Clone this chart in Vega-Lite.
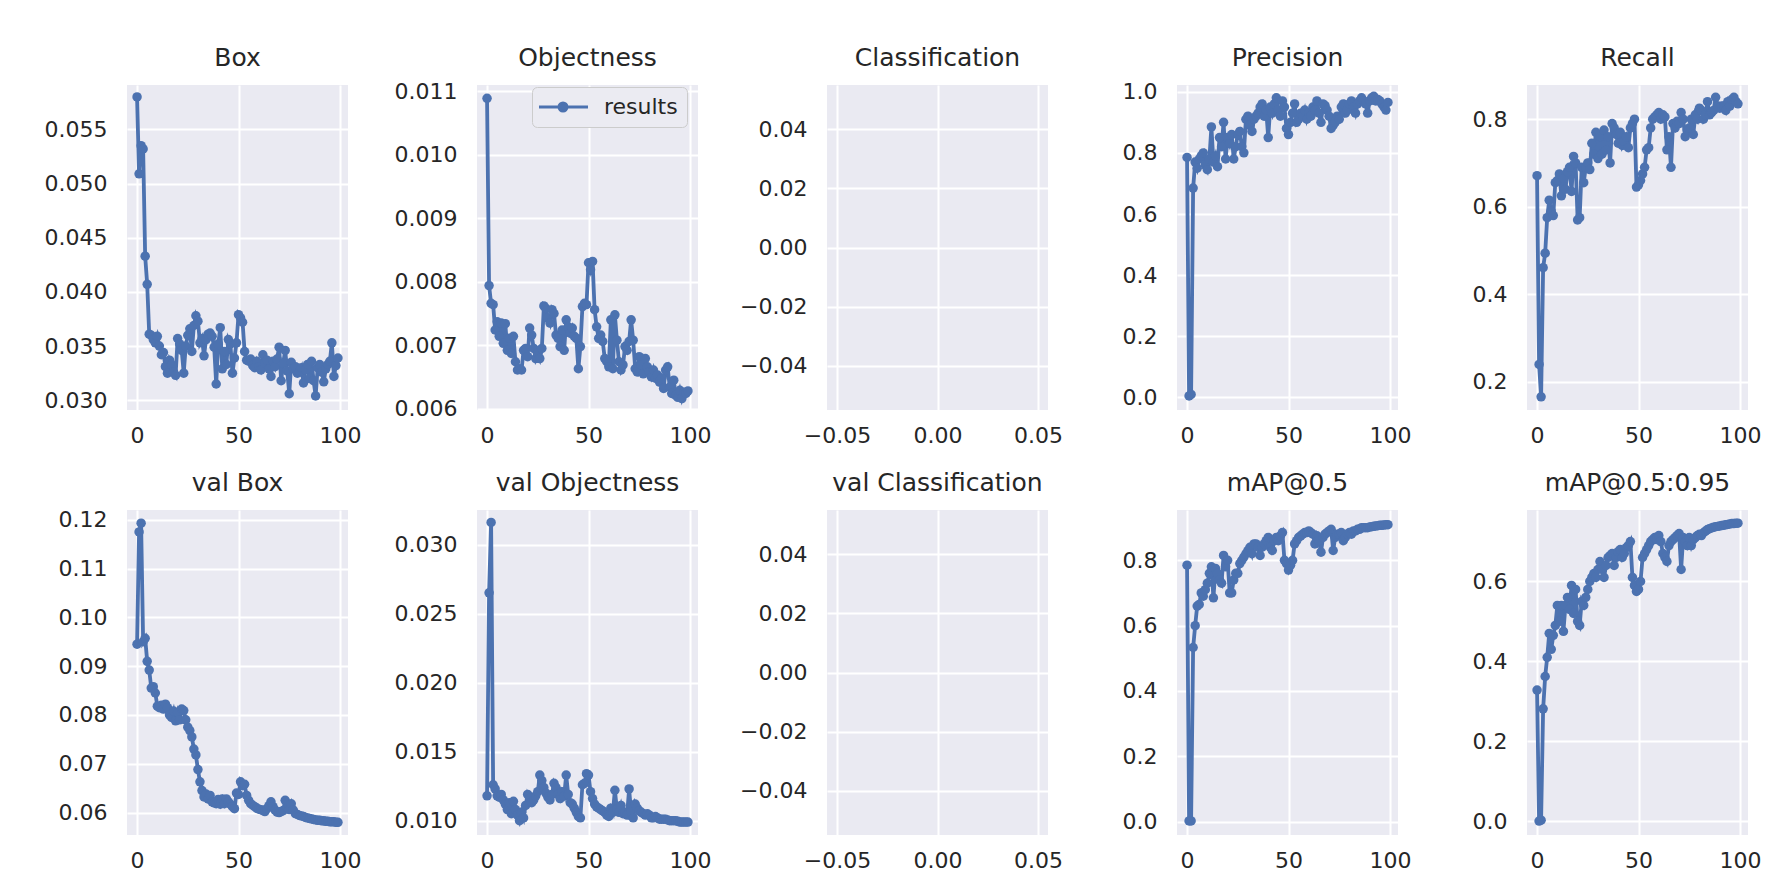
{
"$schema": "https://vega.github.io/schema/vega-lite/v6.json",
"background": "white",
"padding": {"left": 44, "top": 46, "right": 5, "bottom": 0},
"data": {"values": [
{"epoch":0,"box":0.0580,"obj":0.01089,"prec":0.785,"rec":0.671,"vbox":0.0945,"vobj":0.0118,"map50":0.785,"map":0.328},
{"epoch":1,"box":0.0509,"obj":0.00794,"prec":0.005,"rec":0.240,"vbox":0.1175,"vobj":0.0265,"map50":0.002,"map":0.000},
{"epoch":2,"box":0.0535,"obj":0.00766,"prec":0.010,"rec":0.166,"vbox":0.1193,"vobj":0.0316,"map50":0.002,"map":0.002},
{"epoch":3,"box":0.0532,"obj":0.00764,"prec":0.685,"rec":0.461,"vbox":0.0950,"vobj":0.0126,"map50":0.533,"map":0.281},
{"epoch":4,"box":0.0433,"obj":0.00724,"prec":0.770,"rec":0.494,"vbox":0.0957,"vobj":0.0123,"map50":0.600,"map":0.362},
{"epoch":5,"box":0.0407,"obj":0.00737,"prec":0.750,"rec":0.575,"vbox":0.0910,"vobj":0.0118,"map50":0.660,"map":0.410},
{"epoch":6,"box":0.0361,"obj":0.00714,"prec":0.780,"rec":0.615,"vbox":0.0892,"vobj":0.0117,"map50":0.665,"map":0.470},
{"epoch":7,"box":0.0360,"obj":0.00735,"prec":0.790,"rec":0.590,"vbox":0.0855,"vobj":0.0119,"map50":0.700,"map":0.430},
{"epoch":8,"box":0.0356,"obj":0.00703,"prec":0.800,"rec":0.580,"vbox":0.0858,"vobj":0.0115,"map50":0.690,"map":0.465},
{"epoch":9,"box":0.0353,"obj":0.00734,"prec":0.760,"rec":0.655,"vbox":0.0845,"vobj":0.0112,"map50":0.710,"map":0.490},
{"epoch":10,"box":0.0359,"obj":0.00692,"prec":0.745,"rec":0.660,"vbox":0.0818,"vobj":0.0108,"map50":0.730,"map":0.540},
{"epoch":11,"box":0.0350,"obj":0.00711,"prec":0.780,"rec":0.675,"vbox":0.0815,"vobj":0.0113,"map50":0.760,"map":0.500},
{"epoch":12,"box":0.0342,"obj":0.00687,"prec":0.885,"rec":0.625,"vbox":0.0820,"vobj":0.0105,"map50":0.780,"map":0.540},
{"epoch":13,"box":0.0344,"obj":0.00714,"prec":0.770,"rec":0.665,"vbox":0.0812,"vobj":0.0114,"map50":0.685,"map":0.475},
{"epoch":14,"box":0.0331,"obj":0.00674,"prec":0.790,"rec":0.640,"vbox":0.0822,"vobj":0.0108,"map50":0.775,"map":0.540},
{"epoch":15,"box":0.0325,"obj":0.00661,"prec":0.755,"rec":0.680,"vbox":0.0815,"vobj":0.0104,"map50":0.760,"map":0.560},
{"epoch":16,"box":0.0337,"obj":0.00663,"prec":0.850,"rec":0.690,"vbox":0.0800,"vobj":0.0100,"map50":0.740,"map":0.530},
{"epoch":17,"box":0.0333,"obj":0.00661,"prec":0.820,"rec":0.635,"vbox":0.0795,"vobj":0.0106,"map50":0.730,"map":0.590},
{"epoch":18,"box":0.0326,"obj":0.00692,"prec":0.900,"rec":0.715,"vbox":0.0808,"vobj":0.0102,"map50":0.815,"map":0.520},
{"epoch":19,"box":0.0323,"obj":0.00695,"prec":0.780,"rec":0.700,"vbox":0.0788,"vobj":0.0111,"map50":0.780,"map":0.580},
{"epoch":20,"box":0.0357,"obj":0.00682,"prec":0.850,"rec":0.570,"vbox":0.0805,"vobj":0.0119,"map50":0.800,"map":0.500},
{"epoch":21,"box":0.0352,"obj":0.00727,"prec":0.830,"rec":0.575,"vbox":0.0790,"vobj":0.0116,"map50":0.700,"map":0.490},
{"epoch":22,"box":0.0346,"obj":0.00716,"prec":0.860,"rec":0.690,"vbox":0.0812,"vobj":0.0113,"map50":0.700,"map":0.550},
{"epoch":23,"box":0.0325,"obj":0.00695,"prec":0.780,"rec":0.655,"vbox":0.0809,"vobj":0.0115,"map50":0.740,"map":0.540},
{"epoch":24,"box":0.0350,"obj":0.00679,"prec":0.820,"rec":0.690,"vbox":0.0790,"vobj":0.0118,"map50":0.760,"map":0.560},
{"epoch":25,"box":0.0360,"obj":0.00687,"prec":0.860,"rec":0.700,"vbox":0.0775,"vobj":0.0121,"map50":0.760,"map":0.580},
{"epoch":26,"box":0.0366,"obj":0.00679,"prec":0.870,"rec":0.685,"vbox":0.0768,"vobj":0.0133,"map50":0.790,"map":0.600},
{"epoch":27,"box":0.0345,"obj":0.00695,"prec":0.820,"rec":0.745,"vbox":0.0755,"vobj":0.0129,"map50":0.800,"map":0.610},
{"epoch":28,"box":0.0369,"obj":0.00762,"prec":0.800,"rec":0.720,"vbox":0.0730,"vobj":0.0124,"map50":0.810,"map":0.620},
{"epoch":29,"box":0.0378,"obj":0.00758,"prec":0.910,"rec":0.770,"vbox":0.0718,"vobj":0.0120,"map50":0.820,"map":0.610},
{"epoch":30,"box":0.0373,"obj":0.00743,"prec":0.920,"rec":0.710,"vbox":0.0688,"vobj":0.0117,"map50":0.830,"map":0.630},
{"epoch":31,"box":0.0353,"obj":0.00735,"prec":0.890,"rec":0.760,"vbox":0.0663,"vobj":0.0115,"map50":0.840,"map":0.650},
{"epoch":32,"box":0.0357,"obj":0.00756,"prec":0.870,"rec":0.720,"vbox":0.0645,"vobj":0.0119,"map50":0.820,"map":0.630},
{"epoch":33,"box":0.0341,"obj":0.00750,"prec":0.910,"rec":0.775,"vbox":0.0632,"vobj":0.0127,"map50":0.850,"map":0.610},
{"epoch":34,"box":0.0356,"obj":0.00716,"prec":0.920,"rec":0.730,"vbox":0.0638,"vobj":0.0124,"map50":0.850,"map":0.640},
{"epoch":35,"box":0.0361,"obj":0.00711,"prec":0.930,"rec":0.760,"vbox":0.0628,"vobj":0.0119,"map50":0.840,"map":0.660},
{"epoch":36,"box":0.0362,"obj":0.00698,"prec":0.950,"rec":0.700,"vbox":0.0635,"vobj":0.0116,"map50":0.815,"map":0.665},
{"epoch":37,"box":0.0359,"obj":0.00724,"prec":0.960,"rec":0.790,"vbox":0.0622,"vobj":0.0121,"map50":0.840,"map":0.670},
{"epoch":38,"box":0.0349,"obj":0.00692,"prec":0.920,"rec":0.780,"vbox":0.0620,"vobj":0.0118,"map50":0.850,"map":0.640},
{"epoch":39,"box":0.0315,"obj":0.00740,"prec":0.940,"rec":0.765,"vbox":0.0618,"vobj":0.0133,"map50":0.860,"map":0.660},
{"epoch":40,"box":0.0352,"obj":0.00729,"prec":0.850,"rec":0.745,"vbox":0.0627,"vobj":0.0119,"map50":0.870,"map":0.675},
{"epoch":41,"box":0.0367,"obj":0.00719,"prec":0.950,"rec":0.770,"vbox":0.0617,"vobj":0.0113,"map50":0.840,"map":0.680},
{"epoch":42,"box":0.0329,"obj":0.00727,"prec":0.930,"rec":0.740,"vbox":0.0628,"vobj":0.0112,"map50":0.830,"map":0.660},
{"epoch":43,"box":0.0345,"obj":0.00714,"prec":0.960,"rec":0.750,"vbox":0.0618,"vobj":0.0109,"map50":0.860,"map":0.670},
{"epoch":44,"box":0.0333,"obj":0.00711,"prec":0.980,"rec":0.760,"vbox":0.0628,"vobj":0.0106,"map50":0.870,"map":0.685},
{"epoch":45,"box":0.0356,"obj":0.00663,"prec":0.940,"rec":0.735,"vbox":0.0622,"vobj":0.0103,"map50":0.860,"map":0.690},
{"epoch":46,"box":0.0352,"obj":0.00698,"prec":0.920,"rec":0.780,"vbox":0.0617,"vobj":0.0102,"map50":0.875,"map":0.700},
{"epoch":47,"box":0.0325,"obj":0.00761,"prec":0.970,"rec":0.790,"vbox":0.0612,"vobj":0.0126,"map50":0.885,"map":0.610},
{"epoch":48,"box":0.0339,"obj":0.00766,"prec":0.950,"rec":0.800,"vbox":0.0608,"vobj":0.0127,"map50":0.800,"map":0.590},
{"epoch":49,"box":0.0353,"obj":0.00764,"prec":0.880,"rec":0.645,"vbox":0.0640,"vobj":0.0134,"map50":0.790,"map":0.575},
{"epoch":50,"box":0.0379,"obj":0.00830,"prec":0.860,"rec":0.650,"vbox":0.0637,"vobj":0.0133,"map50":0.770,"map":0.580},
{"epoch":51,"box":0.0376,"obj":0.00819,"prec":0.900,"rec":0.660,"vbox":0.0663,"vobj":0.0121,"map50":0.785,"map":0.600},
{"epoch":52,"box":0.0372,"obj":0.00832,"prec":0.930,"rec":0.675,"vbox":0.0655,"vobj":0.0116,"map50":0.800,"map":0.660},
{"epoch":53,"box":0.0345,"obj":0.00756,"prec":0.960,"rec":0.690,"vbox":0.0658,"vobj":0.0112,"map50":0.850,"map":0.670},
{"epoch":54,"box":0.0337,"obj":0.00729,"prec":0.900,"rec":0.730,"vbox":0.0635,"vobj":0.0110,"map50":0.860,"map":0.680},
{"epoch":55,"box":0.0336,"obj":0.00711,"prec":0.910,"rec":0.735,"vbox":0.0625,"vobj":0.0109,"map50":0.870,"map":0.690},
{"epoch":56,"box":0.0338,"obj":0.00716,"prec":0.930,"rec":0.780,"vbox":0.0618,"vobj":0.0108,"map50":0.875,"map":0.700},
{"epoch":57,"box":0.0332,"obj":0.00706,"prec":0.920,"rec":0.800,"vbox":0.0615,"vobj":0.0107,"map50":0.880,"map":0.705},
{"epoch":58,"box":0.0330,"obj":0.00679,"prec":0.940,"rec":0.805,"vbox":0.0612,"vobj":0.0106,"map50":0.885,"map":0.710},
{"epoch":59,"box":0.0336,"obj":0.00674,"prec":0.910,"rec":0.810,"vbox":0.0609,"vobj":0.0104,"map50":0.885,"map":0.705},
{"epoch":60,"box":0.0331,"obj":0.00666,"prec":0.930,"rec":0.815,"vbox":0.0607,"vobj":0.0103,"map50":0.890,"map":0.715},
{"epoch":61,"box":0.0328,"obj":0.00740,"prec":0.920,"rec":0.800,"vbox":0.0606,"vobj":0.0109,"map50":0.885,"map":0.700},
{"epoch":62,"box":0.0342,"obj":0.00663,"prec":0.950,"rec":0.810,"vbox":0.0604,"vobj":0.0106,"map50":0.880,"map":0.670},
{"epoch":63,"box":0.0334,"obj":0.00748,"prec":0.940,"rec":0.805,"vbox":0.0602,"vobj":0.0122,"map50":0.850,"map":0.660},
{"epoch":64,"box":0.0337,"obj":0.00708,"prec":0.970,"rec":0.730,"vbox":0.0608,"vobj":0.0108,"map50":0.875,"map":0.650},
{"epoch":65,"box":0.0329,"obj":0.00674,"prec":0.930,"rec":0.760,"vbox":0.0614,"vobj":0.0106,"map50":0.860,"map":0.690},
{"epoch":66,"box":0.0322,"obj":0.00661,"prec":0.900,"rec":0.690,"vbox":0.0622,"vobj":0.0111,"map50":0.825,"map":0.700},
{"epoch":67,"box":0.0336,"obj":0.00669,"prec":0.960,"rec":0.790,"vbox":0.0612,"vobj":0.0105,"map50":0.870,"map":0.705},
{"epoch":68,"box":0.0331,"obj":0.00698,"prec":0.955,"rec":0.780,"vbox":0.0605,"vobj":0.0106,"map50":0.880,"map":0.710},
{"epoch":69,"box":0.0338,"obj":0.00692,"prec":0.940,"rec":0.795,"vbox":0.0601,"vobj":0.0104,"map50":0.885,"map":0.715},
{"epoch":70,"box":0.0349,"obj":0.00706,"prec":0.920,"rec":0.790,"vbox":0.0600,"vobj":0.0123,"map50":0.890,"map":0.720},
{"epoch":71,"box":0.0318,"obj":0.00740,"prec":0.880,"rec":0.815,"vbox":0.0602,"vobj":0.0106,"map50":0.895,"map":0.630},
{"epoch":72,"box":0.0334,"obj":0.00708,"prec":0.890,"rec":0.800,"vbox":0.0604,"vobj":0.0102,"map50":0.830,"map":0.710},
{"epoch":73,"box":0.0346,"obj":0.00663,"prec":0.900,"rec":0.760,"vbox":0.0625,"vobj":0.0112,"map50":0.870,"map":0.700},
{"epoch":74,"box":0.0327,"obj":0.00658,"prec":0.920,"rec":0.775,"vbox":0.0610,"vobj":0.0109,"map50":0.880,"map":0.690},
{"epoch":75,"box":0.0306,"obj":0.00682,"prec":0.910,"rec":0.780,"vbox":0.0606,"vobj":0.0107,"map50":0.880,"map":0.710},
{"epoch":76,"box":0.0335,"obj":0.00669,"prec":0.950,"rec":0.800,"vbox":0.0618,"vobj":0.0106,"map50":0.885,"map":0.690},
{"epoch":77,"box":0.0329,"obj":0.00655,"prec":0.960,"rec":0.765,"vbox":0.0605,"vobj":0.0105,"map50":0.860,"map":0.705},
{"epoch":78,"box":0.0331,"obj":0.00679,"prec":0.930,"rec":0.810,"vbox":0.0598,"vobj":0.0104,"map50":0.870,"map":0.710},
{"epoch":79,"box":0.0325,"obj":0.00666,"prec":0.940,"rec":0.800,"vbox":0.0596,"vobj":0.0105,"map50":0.880,"map":0.715},
{"epoch":80,"box":0.0326,"obj":0.00658,"prec":0.960,"rec":0.825,"vbox":0.0594,"vobj":0.0104,"map50":0.885,"map":0.718},
{"epoch":81,"box":0.0330,"obj":0.00650,"prec":0.970,"rec":0.820,"vbox":0.0593,"vobj":0.0102,"map50":0.880,"map":0.715},
{"epoch":82,"box":0.0316,"obj":0.00661,"prec":0.950,"rec":0.800,"vbox":0.0592,"vobj":0.0102,"map50":0.890,"map":0.722},
{"epoch":83,"box":0.0328,"obj":0.00648,"prec":0.930,"rec":0.810,"vbox":0.0590,"vobj":0.0103,"map50":0.890,"map":0.726},
{"epoch":84,"box":0.0333,"obj":0.00653,"prec":0.960,"rec":0.840,"vbox":0.0589,"vobj":0.0102,"map50":0.895,"map":0.730},
{"epoch":85,"box":0.0320,"obj":0.00642,"prec":0.970,"rec":0.810,"vbox":0.0588,"vobj":0.0101,"map50":0.895,"map":0.732},
{"epoch":86,"box":0.0336,"obj":0.00648,"prec":0.980,"rec":0.815,"vbox":0.0587,"vobj":0.0101,"map50":0.900,"map":0.734},
{"epoch":87,"box":0.0318,"obj":0.00632,"prec":0.970,"rec":0.820,"vbox":0.0586,"vobj":0.0101,"map50":0.900,"map":0.736},
{"epoch":88,"box":0.0304,"obj":0.00661,"prec":0.960,"rec":0.850,"vbox":0.0585,"vobj":0.0101,"map50":0.900,"map":0.737},
{"epoch":89,"box":0.0330,"obj":0.00666,"prec":0.930,"rec":0.830,"vbox":0.0584,"vobj":0.01005,"map50":0.900,"map":0.738},
{"epoch":90,"box":0.0333,"obj":0.00634,"prec":0.970,"rec":0.825,"vbox":0.0584,"vobj":0.0100,"map50":0.902,"map":0.739},
{"epoch":91,"box":0.0326,"obj":0.00624,"prec":0.980,"rec":0.830,"vbox":0.0583,"vobj":0.0100,"map50":0.903,"map":0.740},
{"epoch":92,"box":0.0317,"obj":0.00645,"prec":0.985,"rec":0.830,"vbox":0.0583,"vobj":0.0100,"map50":0.904,"map":0.741},
{"epoch":93,"box":0.0329,"obj":0.00621,"prec":0.970,"rec":0.820,"vbox":0.0582,"vobj":0.0100,"map50":0.905,"map":0.742},
{"epoch":94,"box":0.0333,"obj":0.00618,"prec":0.975,"rec":0.840,"vbox":0.0582,"vobj":0.00995,"map50":0.906,"map":0.743},
{"epoch":95,"box":0.0336,"obj":0.00629,"prec":0.970,"rec":0.830,"vbox":0.0581,"vobj":0.0099,"map50":0.907,"map":0.744},
{"epoch":96,"box":0.0353,"obj":0.00616,"prec":0.960,"rec":0.845,"vbox":0.0581,"vobj":0.0099,"map50":0.907,"map":0.745},
{"epoch":97,"box":0.0322,"obj":0.00626,"prec":0.950,"rec":0.850,"vbox":0.0581,"vobj":0.0099,"map50":0.908,"map":0.745},
{"epoch":98,"box":0.0332,"obj":0.00624,"prec":0.940,"rec":0.840,"vbox":0.0580,"vobj":0.0099,"map50":0.909,"map":0.746},
{"epoch":99,"box":0.0339,"obj":0.00628,"prec":0.965,"rec":0.835,"vbox":0.0580,"vobj":0.0099,"map50":0.909,"map":0.746}
]},
"columns": 5,
"spacing": {"row": 100, "column": 129},
"bounds": "flush",
"resolve": {"scale": {"color": "independent"}, "legend": {"color": "independent"}},
"concat": [
{"title": "Box", "width": 221, "height": 325,
 "mark": {"type": "line", "color": "#4C72B0", "strokeWidth": 3.8, "point": {"filled": true, "size": 90, "color": "#4C72B0"}},
 "encoding": {
  "x": {"field": "epoch", "type": "quantitative", "scale": {"domain": [-4.95, 103.95], "nice": false, "zero": false}, "axis": {"values": [0, 50, 100], "format": "d", "title": null}},
  "y": {"field": "box", "type": "quantitative", "scale": {"domain": [0.0291, 0.0591], "nice": false, "zero": false}, "axis": {"values": [0.03, 0.035, 0.04, 0.045, 0.05, 0.055], "format": ".3f", "title": null}}}},
{"title": {"text": "Objectness", "dy": 5}, "width": 221, "height": 325,
 "mark": {"type": "line", "color": "#4C72B0", "strokeWidth": 3.8, "point": {"filled": true, "size": 90, "color": "#4C72B0"}},
 "encoding": {
  "x": {"field": "epoch", "type": "quantitative", "scale": {"domain": [-4.95, 103.95], "nice": false, "zero": false}, "axis": {"values": [0, 50, 100], "format": "d", "title": null}},
  "y": {"field": "obj", "type": "quantitative", "scale": {"domain": [0.00598, 0.0111], "nice": false, "zero": false}, "axis": {"values": [0.006, 0.007, 0.008, 0.009, 0.01, 0.011], "format": ".3f", "title": null}},
  "color": {"datum": "results", "type": "nominal", "scale": {"range": ["#4C72B0"]},
   "legend": {"title": null, "orient": "none", "legendX": 55, "legendY": 2, "symbolType": "M-1.625,0L4.5,0M0.875,0A0.5,0.5,0,1,0,1.875,0A0.5,0.5,0,1,0,0.875,0Z", "symbolSize": 256, "symbolStrokeWidth": 3, "symbolFillColor": "#4C72B0", "symbolStrokeColor": "#4C72B0", "labelFontSize": 22, "labelColor": "#262626", "labelFont": "DejaVu Sans", "fillColor": "#EBEBF2", "strokeColor": "#CCCCCC", "cornerRadius": 5, "padding": 9, "labelOffset": 41}}}},
{"title": "Classification", "width": 221, "height": 325,
 "data": {"values": []},
 "mark": {"type": "line", "color": "#4C72B0"},
 "encoding": {
  "x": {"field": "x", "type": "quantitative", "scale": {"domain": [-0.055, 0.055], "nice": false, "zero": false}, "axis": {"values": [-0.05, 0, 0.05], "format": ".2f", "title": null}},
  "y": {"field": "y", "type": "quantitative", "scale": {"domain": [-0.055, 0.055], "nice": false, "zero": false}, "axis": {"values": [-0.04, -0.02, 0, 0.02, 0.04], "format": ".2f", "title": null}}}},
{"title": {"text": "Precision", "dy": 4.5}, "width": 221, "height": 325,
 "mark": {"type": "line", "color": "#4C72B0", "strokeWidth": 3.8, "point": {"filled": true, "size": 90, "color": "#4C72B0"}},
 "encoding": {
  "x": {"field": "epoch", "type": "quantitative", "scale": {"domain": [-4.95, 103.95], "nice": false, "zero": false}, "axis": {"values": [0, 50, 100], "format": "d", "title": null}},
  "y": {"field": "prec", "type": "quantitative", "scale": {"domain": [-0.041, 1.022], "nice": false, "zero": false}, "axis": {"values": [0, 0.2, 0.4, 0.6, 0.8, 1.0], "format": ".1f", "title": null}}}},
{"title": "Recall", "width": 221, "height": 325,
 "mark": {"type": "line", "color": "#4C72B0", "strokeWidth": 3.8, "point": {"filled": true, "size": 90, "color": "#4C72B0"}},
 "encoding": {
  "x": {"field": "epoch", "type": "quantitative", "scale": {"domain": [-4.95, 103.95], "nice": false, "zero": false}, "axis": {"values": [0, 50, 100], "format": "d", "title": null}},
  "y": {"field": "rec", "type": "quantitative", "scale": {"domain": [0.136, 0.878], "nice": false, "zero": false}, "axis": {"values": [0.2, 0.4, 0.6, 0.8], "format": ".1f", "title": null}}}},
{"title": {"text": "val Box", "dy": 1.5}, "width": 221, "height": 325,
 "mark": {"type": "line", "color": "#4C72B0", "strokeWidth": 3.8, "point": {"filled": true, "size": 90, "color": "#4C72B0"}},
 "encoding": {
  "x": {"field": "epoch", "type": "quantitative", "scale": {"domain": [-4.95, 103.95], "nice": false, "zero": false}, "axis": {"values": [0, 50, 100], "format": "d", "title": null}},
  "y": {"field": "vbox", "type": "quantitative", "scale": {"domain": [0.0554, 0.122], "nice": false, "zero": false}, "axis": {"values": [0.06, 0.07, 0.08, 0.09, 0.1, 0.11, 0.12], "format": ".2f", "title": null}}}},
{"title": "val Objectness", "width": 221, "height": 325,
 "mark": {"type": "line", "color": "#4C72B0", "strokeWidth": 3.8, "point": {"filled": true, "size": 90, "color": "#4C72B0"}},
 "encoding": {
  "x": {"field": "epoch", "type": "quantitative", "scale": {"domain": [-4.95, 103.95], "nice": false, "zero": false}, "axis": {"values": [0, 50, 100], "format": "d", "title": null}},
  "y": {"field": "vobj", "type": "quantitative", "scale": {"domain": [0.00896, 0.0325], "nice": false, "zero": false}, "axis": {"values": [0.01, 0.015, 0.02, 0.025, 0.03], "format": ".3f", "title": null}}}},
{"title": "val Classification", "width": 221, "height": 325,
 "data": {"values": []},
 "mark": {"type": "line", "color": "#4C72B0"},
 "encoding": {
  "x": {"field": "x", "type": "quantitative", "scale": {"domain": [-0.055, 0.055], "nice": false, "zero": false}, "axis": {"values": [-0.05, 0, 0.05], "format": ".2f", "title": null}},
  "y": {"field": "y", "type": "quantitative", "scale": {"domain": [-0.055, 0.055], "nice": false, "zero": false}, "axis": {"values": [-0.04, -0.02, 0, 0.02, 0.04], "format": ".2f", "title": null}}}},
{"title": "mAP@0.5", "width": 221, "height": 325,
 "mark": {"type": "line", "color": "#4C72B0", "strokeWidth": 3.8, "point": {"filled": true, "size": 90, "color": "#4C72B0"}},
 "encoding": {
  "x": {"field": "epoch", "type": "quantitative", "scale": {"domain": [-4.95, 103.95], "nice": false, "zero": false}, "axis": {"values": [0, 50, 100], "format": "d", "title": null}},
  "y": {"field": "map50", "type": "quantitative", "scale": {"domain": [-0.041, 0.954], "nice": false, "zero": false}, "axis": {"values": [0, 0.2, 0.4, 0.6, 0.8], "format": ".1f", "title": null}}}},
{"title": "mAP@0.5:0.95", "width": 221, "height": 325,
 "mark": {"type": "line", "color": "#4C72B0", "strokeWidth": 3.8, "point": {"filled": true, "size": 90, "color": "#4C72B0"}},
 "encoding": {
  "x": {"field": "epoch", "type": "quantitative", "scale": {"domain": [-4.95, 103.95], "nice": false, "zero": false}, "axis": {"values": [0, 50, 100], "format": "d", "title": null}},
  "y": {"field": "map", "type": "quantitative", "scale": {"domain": [-0.035, 0.779], "nice": false, "zero": false}, "axis": {"values": [0, 0.2, 0.4, 0.6], "format": ".1f", "title": null}}}}
],
"config": {
 "font": "DejaVu Sans",
 "view": {"fill": "#EAEAF2", "stroke": null},
 "axis": {"domain": false, "ticks": false, "grid": true, "gridColor": "#FFFFFF", "gridWidth": 2, "gridOpacity": 1, "labelFontSize": 22, "labelColor": "#262626", "labelFont": "DejaVu Sans", "labelPadding": 20, "labelFlush": false, "labelOverlap": false, "labelBound": false},
 "axisX": {"labelPadding": 15},
 "title": {"fontSize": 25, "fontWeight": "normal", "color": "#262626", "font": "DejaVu Sans", "offset": 14, "anchor": "middle"}
}
}
